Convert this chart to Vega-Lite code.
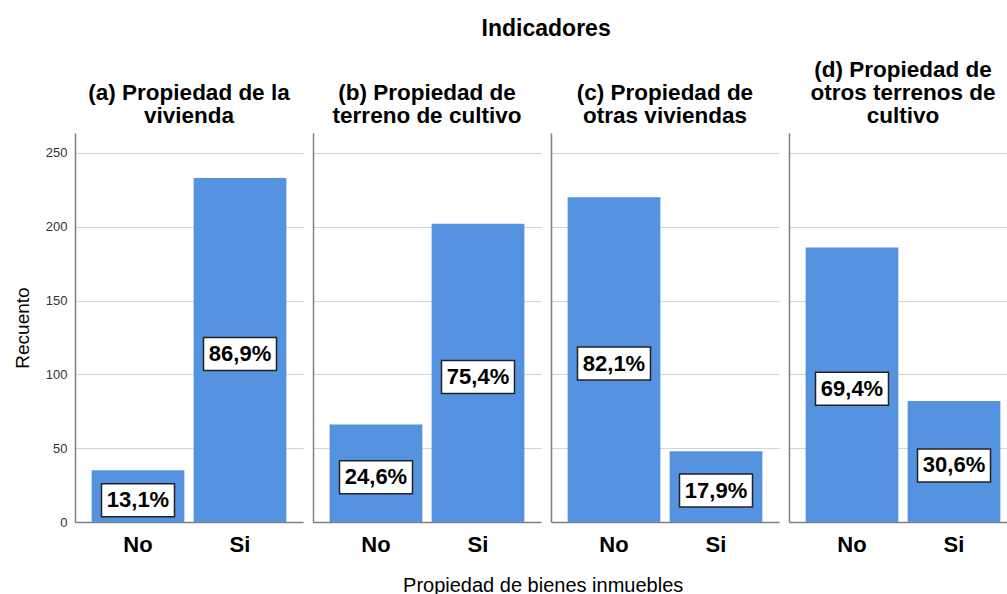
{
  "$schema": "https://vega.github.io/schema/vega-lite/v6.json",
  "padding": {"left": 13, "top": 17, "right": 0, "bottom": 0},
  "background": "white",
  "title": {"text": "Propiedad de bienes inmuebles", "orient": "bottom", "anchor": "middle", "fontSize": 20, "fontWeight": "normal", "font": "Liberation Sans", "color": "#000", "offset": 21, "dx": 28},
  "datasets": {
    "d": [
      {"ind": "a", "cat": "No", "n": 35, "lab": "13,1%"},
      {"ind": "a", "cat": "Si", "n": 233, "lab": "86,9%"},
      {"ind": "b", "cat": "No", "n": 66, "lab": "24,6%"},
      {"ind": "b", "cat": "Si", "n": 202, "lab": "75,4%"},
      {"ind": "c", "cat": "No", "n": 220, "lab": "82,1%"},
      {"ind": "c", "cat": "Si", "n": 48, "lab": "17,9%"},
      {"ind": "d", "cat": "No", "n": 186, "lab": "69,4%"},
      {"ind": "d", "cat": "Si", "n": 82, "lab": "30,6%"}
    ]
  },
  "vconcat": [
    {
      "title": {"text": "Indicadores", "anchor": "middle", "fontSize": 23, "fontWeight": "bold", "font": "Liberation Sans", "color": "#000", "offset": 18, "dx": 31},
      "spacing": 10,
      "hconcat": [
        {
          "width": 228, "height": 389,
          "title": {"text": ["(a) Propiedad de la", "vivienda"], "fontSize": 22.5, "lineHeight": 23, "offset": 6, "anchor": "middle", "fontWeight": "bold", "font": "Liberation Sans", "color": "#000"},
          "data": {"name": "d"},
          "transform": [{"filter": "datum.ind == 'a'"}, {"calculate": "datum.n / 2", "as": "mid"}],
          "encoding": {
            "x": {"field": "cat", "type": "nominal", "scale": {"paddingInner": 0.091, "paddingOuter": 0.163}, "axis": {"title": null}}
          },
          "layer": [
            {"mark": {"type": "bar", "color": "#5593e0"},
             "encoding": {"y": {"field": "n", "type": "quantitative", "scale": {"domain": [0, 263.5], "nice": false}, "axis": {"title": "Recuento", "titleFontSize": 19, "titleFontWeight": "normal", "titleColor": "#000", "labelFontSize": 13, "labelColor": "#333", "labelPadding": 8, "values": [0, 50, 100, 150, 200, 250], "grid": true, "titlePadding": 13}}}},
            {"mark": {"type": "point", "shape": "M-1,-0.452H1V0.452H-1Z", "size": 5329, "filled": true, "fill": "white", "stroke": "#222", "strokeWidth": 1.5, "opacity": 1},
             "encoding": {"y": {"field": "mid", "type": "quantitative"}, "yOffset": {"value": 4}}},
            {"mark": {"type": "text", "fontSize": 22, "fontWeight": "bold", "font": "Liberation Sans", "color": "#000", "baseline": "middle", "dy": 4},
             "encoding": {"y": {"field": "mid", "type": "quantitative"}, "text": {"field": "lab"}}}
          ]
        },
        {
          "width": 228, "height": 389,
          "title": {"text": ["(b) Propiedad de", "terreno de cultivo"], "fontSize": 22.5, "lineHeight": 23, "offset": 6, "anchor": "middle", "fontWeight": "bold", "font": "Liberation Sans", "color": "#000"},
          "data": {"name": "d"},
          "transform": [{"filter": "datum.ind == 'b'"}, {"calculate": "datum.n / 2", "as": "mid"}],
          "encoding": {
            "x": {"field": "cat", "type": "nominal", "scale": {"paddingInner": 0.091, "paddingOuter": 0.163}, "axis": {"title": null}}
          },
          "layer": [
            {"mark": {"type": "bar", "color": "#5593e0"},
             "encoding": {"y": {"field": "n", "type": "quantitative", "scale": {"domain": [0, 263.5], "nice": false}, "axis": {"title": null, "labels": false, "values": [0, 50, 100, 150, 200, 250], "grid": true}}}},
            {"mark": {"type": "point", "shape": "M-1,-0.452H1V0.452H-1Z", "size": 5329, "filled": true, "fill": "white", "stroke": "#222", "strokeWidth": 1.5, "opacity": 1},
             "encoding": {"y": {"field": "mid", "type": "quantitative"}, "yOffset": {"value": 4}}},
            {"mark": {"type": "text", "fontSize": 22, "fontWeight": "bold", "font": "Liberation Sans", "color": "#000", "baseline": "middle", "dy": 4},
             "encoding": {"y": {"field": "mid", "type": "quantitative"}, "text": {"field": "lab"}}}
          ]
        },
        {
          "width": 228, "height": 389,
          "title": {"text": ["(c) Propiedad de", "otras viviendas"], "fontSize": 22.5, "lineHeight": 23, "offset": 6, "anchor": "middle", "fontWeight": "bold", "font": "Liberation Sans", "color": "#000"},
          "data": {"name": "d"},
          "transform": [{"filter": "datum.ind == 'c'"}, {"calculate": "datum.n / 2", "as": "mid"}],
          "encoding": {
            "x": {"field": "cat", "type": "nominal", "scale": {"paddingInner": 0.091, "paddingOuter": 0.163}, "axis": {"title": null}}
          },
          "layer": [
            {"mark": {"type": "bar", "color": "#5593e0"},
             "encoding": {"y": {"field": "n", "type": "quantitative", "scale": {"domain": [0, 263.5], "nice": false}, "axis": {"title": null, "labels": false, "values": [0, 50, 100, 150, 200, 250], "grid": true}}}},
            {"mark": {"type": "point", "shape": "M-1,-0.452H1V0.452H-1Z", "size": 5329, "filled": true, "fill": "white", "stroke": "#222", "strokeWidth": 1.5, "opacity": 1},
             "encoding": {"y": {"field": "mid", "type": "quantitative"}, "yOffset": {"value": 4}}},
            {"mark": {"type": "text", "fontSize": 22, "fontWeight": "bold", "font": "Liberation Sans", "color": "#000", "baseline": "middle", "dy": 4},
             "encoding": {"y": {"field": "mid", "type": "quantitative"}, "text": {"field": "lab"}}}
          ]
        },
        {
          "width": 228, "height": 389,
          "title": {"text": ["(d) Propiedad de", "otros terrenos de", "cultivo"], "fontSize": 22.5, "lineHeight": 23, "offset": 6, "anchor": "middle", "fontWeight": "bold", "font": "Liberation Sans", "color": "#000"},
          "data": {"name": "d"},
          "transform": [{"filter": "datum.ind == 'd'"}, {"calculate": "datum.n / 2", "as": "mid"}],
          "encoding": {
            "x": {"field": "cat", "type": "nominal", "scale": {"paddingInner": 0.091, "paddingOuter": 0.163}, "axis": {"title": null}}
          },
          "layer": [
            {"mark": {"type": "bar", "color": "#5593e0"},
             "encoding": {"y": {"field": "n", "type": "quantitative", "scale": {"domain": [0, 263.5], "nice": false}, "axis": {"title": null, "labels": false, "values": [0, 50, 100, 150, 200, 250], "grid": true}}}},
            {"mark": {"type": "point", "shape": "M-1,-0.452H1V0.452H-1Z", "size": 5329, "filled": true, "fill": "white", "stroke": "#222", "strokeWidth": 1.5, "opacity": 1},
             "encoding": {"y": {"field": "mid", "type": "quantitative"}, "yOffset": {"value": 4}}},
            {"mark": {"type": "text", "fontSize": 22, "fontWeight": "bold", "font": "Liberation Sans", "color": "#000", "baseline": "middle", "dy": 4},
             "encoding": {"y": {"field": "mid", "type": "quantitative"}, "text": {"field": "lab"}}}
          ]
        }
      ]
    }
  ],
  "config": {
    "view": {"stroke": null},
    "font": "Liberation Sans",
    "axis": {"labelFont": "Liberation Sans", "titleFont": "Liberation Sans", "domainColor": "#808080", "domainWidth": 1.5, "gridColor": "#d4d4d4", "gridWidth": 1, "ticks": false, "tickSize": 0},
    "axisX": {"labelFontSize": 22, "labelFontWeight": "bold", "labelColor": "#000", "labelPadding": 12, "labelAngle": 0, "grid": false}
  }
}
